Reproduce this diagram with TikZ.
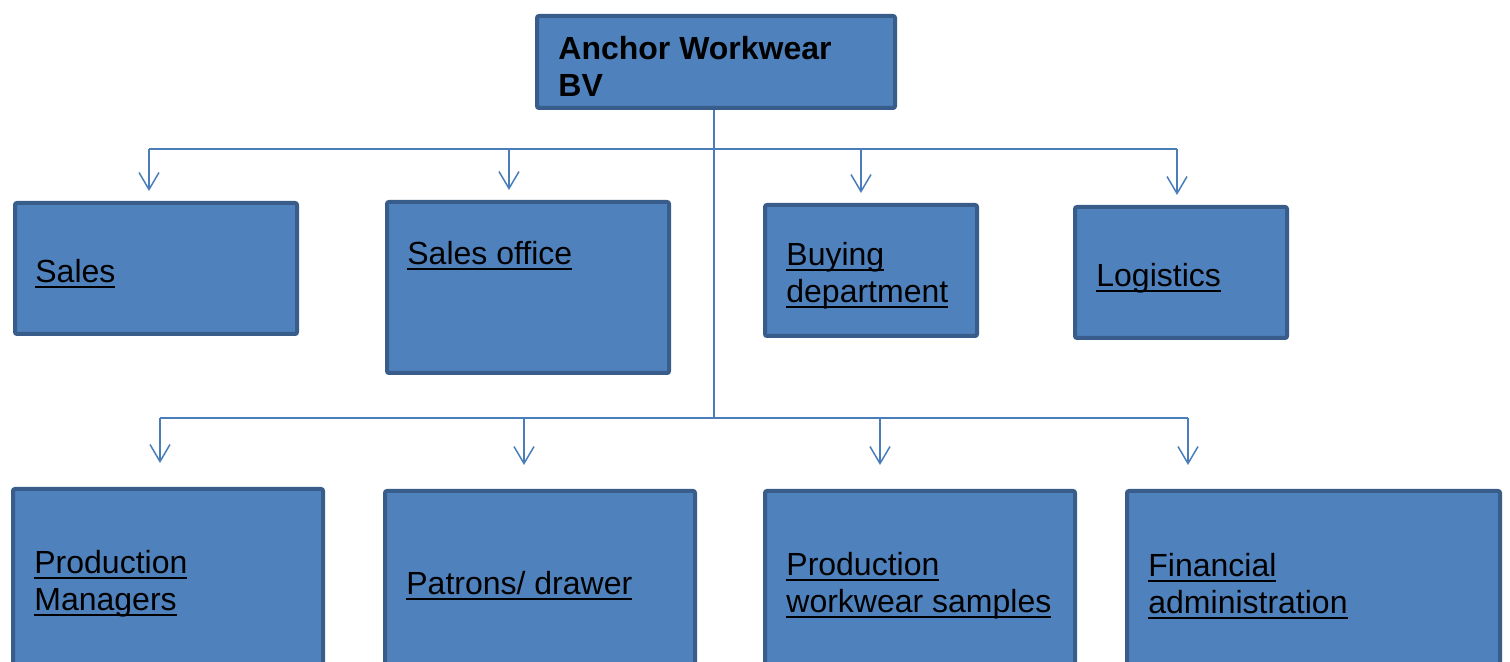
\documentclass[tikz,border=0pt]{standalone}
\usepackage{fontspec}
\setmainfont{Liberation Sans}
\usetikzlibrary{arrows.meta,fit}
\definecolor{boxfill}{HTML}{4F81BD}
\definecolor{boxline}{HTML}{385D8A}
\definecolor{linkline}{HTML}{4A7EBB}
% underline at a fixed depth below the baseline
\newcommand\ulabel[1]{\setbox0\hbox{#1}\rlap{\vrule height -2pt depth 3.2pt width \wd0}\box0}
\tikzset{
	unit/.style={draw=boxline, fill=boxfill, line width=2pt, rounded corners=1pt, inner sep=0pt},
	lbl/.style={anchor=north west, align=left, inner sep=0pt, font=\fontsize{16}{18.5}\selectfont},
	link/.style={linkline, line width=0.75pt},
	arr/.style={link, -{Straight Barb[length=8.5pt,width=10pt]}},
}
\begin{document}
\begin{tikzpicture}[x=0.5pt, y=-0.5pt]
		\clip (0,0) rectangle (1510,662);
		
		% top unit
		\node[unit, fit={(537,16) (895,108)}] (top) {};
		\node[lbl, font=\fontsize{16}{18.5}\selectfont\bfseries] (topT) at (558,35.5) {Anchor Workwear\\BV};
		
		% first row
		\node[unit, fit={(15,203) (297,334)}] (sales) {};
		\node[unit, fit={(387,202) (669,373)}] (office) {};
		\node[unit, fit={(765,205) (977,336)}] (buying) {};
		\node[unit, fit={(1075,207) (1287,338)}] (logistics) {};
		\node[lbl] (salesT) at (35,258.5) {\ulabel{Sales}};
		\node[lbl] (officeT) at (407,240.5) {\ulabel{Sales office}};
		\node[lbl] (buyingT) at (786,241.5) {\ulabel{Buying}\\\ulabel{department}};
		\node[lbl] (logisticsT) at (1096,262.5) {\ulabel{Logistics}};
		
		% second row
		\node[unit, fit={(13,489) (323,700)}] (prodman) {};
		\node[unit, fit={(385,491) (695,700)}] (patrons) {};
		\node[unit, fit={(765,491) (1075,700)}] (samples) {};
		\node[unit, fit={(1127,491) (1500,700)}] (finance) {};
		\node[lbl] (prodmanT) at (34,549.5) {\ulabel{Production}\\\ulabel{Managers}};
		\node[lbl] (patronsT) at (406,570.5) {\ulabel{Patrons/ drawer}};
		\node[lbl] (samplesT) at (786,551.5) {\ulabel{Production}\\\ulabel{workwear samples}};
		\node[lbl] (financeT) at (1148,552.5) {\ulabel{Financial}\\\ulabel{administration}};
		
		% trunk and buses
		\coordinate (hub) at (714,418);
		\draw[link] (hub |- top.south) -- (hub);
		\draw[link] (149,149) -- (1177,149);
		\draw[link] (160,418) -- (1188,418);
		
		% arrows
		\foreach \n/\x in {sales/149, office/509, buying/861, logistics/1177}
		{
			\coordinate (drop) at (\x,149);
			\draw[arr, shorten >=5pt] (drop) -- (drop |- \n.north);
		}
		\foreach \n/\x in {prodman/160, patrons/524, samples/880, finance/1188}
		{
			\coordinate (drop) at (\x,418);
			\draw[arr, shorten >=12pt] (drop) -- (drop |- \n.north);
		}
\end{tikzpicture}
\end{document}
